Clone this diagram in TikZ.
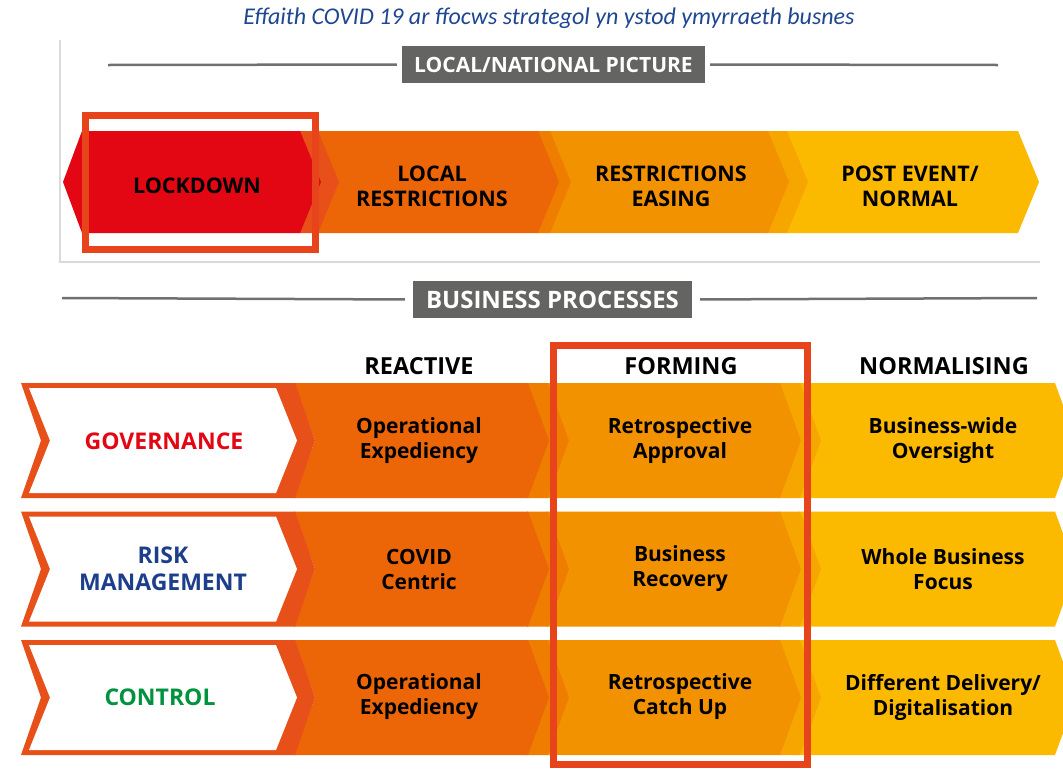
\documentclass[tikz,border=0pt]{standalone}
\usepackage{fontspec}
\setmainfont{Open Sans}
\newfontfamily\titlefont{Carlito}

\definecolor{lockred}{RGB}{227,6,19}
\definecolor{bandred}{RGB}{232,80,26}
\definecolor{orangeA}{RGB}{236,102,8}
\definecolor{bandA}{RGB}{239,125,0}
\definecolor{orangeB}{RGB}{243,146,0}
\definecolor{bandB}{RGB}{247,166,0}
\definecolor{yellowC}{RGB}{251,186,0}
\definecolor{framered}{RGB}{232,68,28}
\definecolor{titleblue}{RGB}{31,71,145}
\definecolor{riskblue}{RGB}{29,62,138}
\definecolor{ctrlgreen}{RGB}{0,146,63}
\definecolor{boxgray}{RGB}{100,100,99}
\definecolor{rulegray}{RGB}{112,112,112}
\definecolor{framegray}{RGB}{218,218,218}

\tikzstyle{graybox}=[fill=boxgray, text=white, inner sep=0pt]
\tikzstyle{rule}=[rulegray, line width=2.5pt]
\tikzstyle{redframe}=[framered, line width=7pt]
\tikzstyle{stagetext}=[align=center, font=\bfseries\fontsize{21.5}{25}\selectfont]
\tikzstyle{headtext}=[font=\bfseries\fontsize{23.5}{26}\selectfont]
\tikzstyle{celltext}=[align=center, font=\bfseries\fontsize{21}{25}\selectfont]
\tikzstyle{labeltext}=[align=center, font=\bfseries\fontsize{23}{27}\selectfont]

% left, right, top, bottom, depth, colour
\newcommand{\chevron}[6]{%
  \fill[#6] ({#1-1},#3) -- (#2,#3) -- ({#2+#5},{(#3+#4)/2}) -- (#2,#4)
    -- ({#1-1},#4) -- ({#1-1+#5},{(#3+#4)/2}) -- cycle;}

% one process row: top, bottom (drawn right to left)
\newcommand{\procrow}[2]{%
  \chevron{800}{1055}{#1}{#2}{21}{yellowC}
  \chevron{780}{800}{#1}{#2}{21}{bandB}
  \chevron{548}{780}{#1}{#2}{21}{orangeB}
  \chevron{528}{548}{#1}{#2}{21}{bandA}
  \chevron{295}{528}{#1}{#2}{21}{orangeA}
  \chevron{22}{295}{#1}{#2}{20}{bandred}
  \chevron{30}{276}{#1+5}{#2-5}{21}{white}}

\begin{document}
\begin{tikzpicture}[x=1pt, y=-1pt]
      \clip (0,0) rectangle (1063,777);
      \fill[white] (0,0) rectangle (1063,777);

      % title
      \node[text=titleblue, font=\titlefont\itshape\fontsize{24}{28}\selectfont] (title) at (549,18) {Effaith COVID 19 ar ffocws strategol yn ystod ymyrraeth busnes};

      % local / national panel
      \draw[framegray, line width=1.5pt] (60,40) -- (60,262) -- (1040,262);
      \node[graybox, minimum width=303, minimum height=37, font=\bfseries\fontsize{21}{24}\selectfont] (localbox) at (553.5,64.5) {LOCAL/NATIONAL PICTURE};
      \coordinate (localL) at (108,65);
      \coordinate (localR) at (998,65);
      \draw[rule, shorten >=5pt] (localL) -- (localbox.west);
      \draw[rule, shorten >=5pt] (localR) -- (localbox.east);

      \chevron{787}{1018}{131}{233}{21}{yellowC}
      \chevron{768}{787}{131}{233}{21}{bandB}
      \chevron{550}{768}{131}{233}{21}{orangeB}
      \chevron{538}{550}{131}{233}{21}{bandA}
      \chevron{318}{538}{131}{233}{21}{orangeA}
      \chevron{300}{318}{131}{233}{21}{bandred}
      \fill[lockred] (82,131) -- (300,131) -- (321,182) -- (300,233) -- (82,233) -- (63,182) -- cycle;

      \node[stagetext] (lockdown) at (197,186) {LOCKDOWN};
      \node[stagetext] (localres) at (432,186) {LOCAL\\RESTRICTIONS};
      \node[stagetext] (easing) at (671,186) {RESTRICTIONS\\EASING};
      \node[stagetext] (normal) at (910,186) {POST EVENT/\\NORMAL};

      % business processes panel
      \node[graybox, minimum width=279, minimum height=37, font=\bfseries\fontsize{24}{26}\selectfont] (procbox) at (552.5,299.5) {BUSINESS PROCESSES};
      \coordinate (procL) at (62,298);
      \coordinate (procR) at (1037,298);
      \draw[rule, shorten >=8pt] (procL) -- (procbox.west);
      \draw[rule, shorten >=8pt] (procR) -- (procbox.east);

      \node[headtext] (reactive) at (419,366) {REACTIVE};
      \node[headtext] (forming) at (681,366) {FORMING};
      \node[headtext] (normalising) at (944,366) {NORMALISING};

      \procrow{383}{498}
      \procrow{511.5}{626.5}
      \procrow{640}{755}

      \node[labeltext, text=lockred] (governance) at (164,441) {GOVERNANCE};
      \node[celltext] (govreact) at (419,441) {Operational\\Expediency};
      \node[celltext] (govform) at (680,441) {Retrospective\\Approval};
      \node[celltext] (govnorm) at (943,441) {Business-wide\\Oversight};

      \node[labeltext, text=riskblue] (risk) at (163,569) {RISK\\MANAGEMENT};
      \node[celltext] (riskreact) at (419,569) {COVID\\Centric};
      \node[celltext] (riskform) at (680,569) {Business\\Recovery};
      \node[celltext] (risknorm) at (943,569) {Whole Business\\Focus};

      \node[labeltext, text=ctrlgreen] (control) at (160,697) {CONTROL};
      \node[celltext] (ctrlreact) at (419,697) {Operational\\Expediency};
      \node[celltext] (ctrlform) at (680,697) {Retrospective\\Catch Up};
      \node[celltext] (ctrlnorm) at (943,697) {Different Delivery/\\Digitalisation};

      % highlight frames
      \draw[redframe] (85.5,115.5) rectangle (315.5,249.5);
      \draw[redframe] (553.5,345) rectangle (807,764);
    \end{tikzpicture}
\end{document}
